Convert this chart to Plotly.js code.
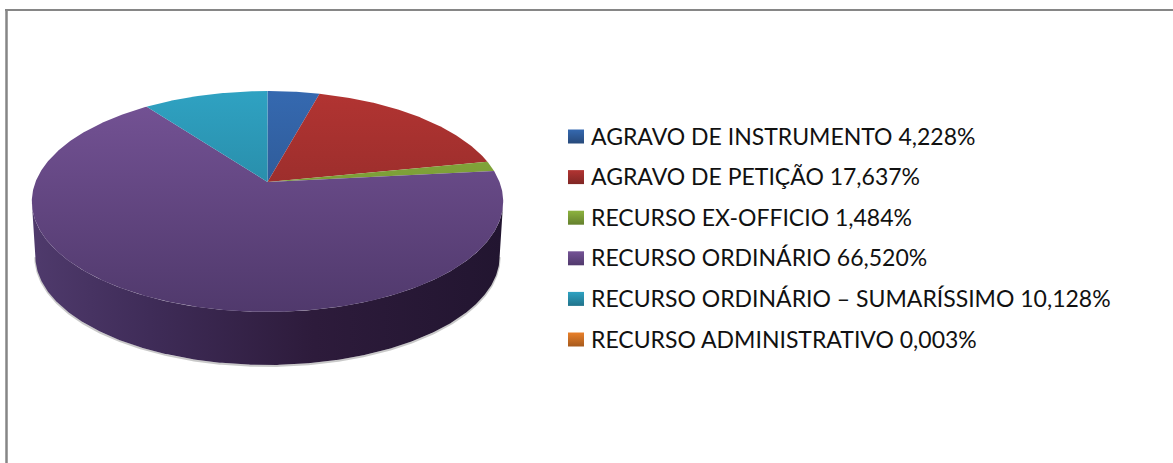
<!DOCTYPE html>
<html><head><meta charset="utf-8">
<script src="https://cdn.plot.ly/plotly-3.0.1.min.js"></script>
<style>html,body{margin:0;padding:0;background:#fff;overflow:hidden}#chart{width:1173px;height:463px}</style>
</head><body><div id="chart"></div>
<script>
const categories = ["AGRAVO DE INSTRUMENTO","AGRAVO DE PETIÇÃO","RECURSO EX-OFFICIO","RECURSO ORDINÁRIO","RECURSO ORDINÁRIO – SUMARÍSSIMO","RECURSO ADMINISTRATIVO"];
const shares = [4.228,17.637,1.484,66.520,10.128,0.003];
const colorsTop = ["#3569B0","#B23432","#8DB33F","#755396","#2FA2C2","#E9802A"];
const colorsBottom = ["#27497A","#7F2624","#64802D","#50396C","#21738B","#A65A1D"];
const wallColors = ["#27497A","#7F2624","#64802D","#4F3A6C","#21738B","#A65A1D"];
const wallColorsDark = ["#1A3050","#541A18","#44561E","#221530","#154C5C","#6E3C13"];

// projection of the tilted disc
const cx=267.5, cy=182, R=232, S=107, k=0.1765;
const dropY=55, lowerScale=0.985;
const faceTop=91, faceBottom=312;
function pt(deg,lower){
  const t=deg*Math.PI/180, d=1+k*Math.cos(t), s=lower?lowerScale:1, oy=lower?dropY:0;
  return [cx+s*R*Math.sin(t)/d, cy+oy-s*S*Math.cos(t)/d];
}
function arc(a,b,lower){
  const n=Math.max(2,Math.ceil(Math.abs(b-a)/0.5)), out=[];
  for(let i=0;i<=n;i++) out.push(pt(a+(b-a)*i/n,lower));
  return out;
}
const extreme=Math.acos(-k)*180/Math.PI, visA=extreme, visB=360-extreme;
const traces=[];
let acc=0; const spans=shares.map(v=>{const a=acc*3.6; acc+=v; return [a,acc*3.6];});

// side wall
spans.forEach((sp,i)=>{
  const a=Math.max(sp[0],visA), b=Math.min(sp[1],visB);
  if(b<=a) return;
  const lowerArc=arc(a,b,true), upperArc=arc(b,a,false), poly=lowerArc.concat(upperArc);
  traces.push({type:'scatter',mode:'lines',x:lowerArc.map(p=>p[0]),y:lowerArc.map(p=>p[1]+1),
    line:{color:'rgba(120,120,120,0.4)',width:2},hoverinfo:'skip',showlegend:false});
  traces.push({type:'scatter',mode:'lines',x:poly.map(p=>p[0]),y:poly.map(p=>p[1]),fill:'toself',
    line:{width:0,color:'rgba(0,0,0,0)'},
    fillgradient:{type:'horizontal',start:32,stop:503,
      colorscale:[[0,wallColors[i]],[0.25,'#3F2C58'],[0.6,'#2D1B3B'],[1,wallColorsDark[i]]]},
    hoverinfo:'skip',showlegend:false});
});
// top face
spans.forEach((sp,i)=>{
  const poly=[[cx,cy]].concat(arc(sp[0],sp[1],false)); poly.push([cx,cy]);
  traces.push({type:'scatter',mode:'lines',name:categories[i],x:poly.map(p=>p[0]),y:poly.map(p=>p[1]),fill:'toself',
    line:{width:0,color:colorsTop[i]},
    fillgradient:{type:'vertical',start:faceTop,stop:faceBottom,colorscale:[[0,colorsTop[i]],[1,colorsBottom[i]]]},
    text:categories[i],hoverinfo:'text',showlegend:false});
});
// legend
const legX=568, legW=16, legH=14, legTextX=589, legY0=135.5, legStep=40.6;
const annotations=categories.map((c,i)=>({
  x:legTextX,y:legY0+i*legStep,xref:'x',yref:'y',xanchor:'left',yanchor:'middle',showarrow:false,
  text:c+' '+shares[i].toFixed(3).replace('.',',')+'%',
  font:{family:'Lato, sans-serif',size:23,color:'#111111'}
}));
categories.forEach((c,i)=>{
  const y=legY0+1+i*legStep;
  traces.push({type:'scatter',mode:'lines',x:[legX,legX+legW,legX+legW,legX,legX],y:[y-legH/2,y-legH/2,y+legH/2,y+legH/2,y-legH/2],
    fill:'toself',line:{width:0,color:colorsTop[i]},
    fillgradient:{type:'vertical',start:y-legH/2,stop:y+legH/2,colorscale:[[0,colorsTop[i]],[1,colorsBottom[i]]]},
    hoverinfo:'skip',showlegend:false});
});
const frame='#868686';
Plotly.newPlot('chart',traces,{
  width:1173,height:463,margin:{l:0,r:0,t:0,b:0},paper_bgcolor:'#fff',plot_bgcolor:'#fff',showlegend:false,
  xaxis:{range:[0,1173],visible:false,fixedrange:true},
  yaxis:{range:[463,0],visible:false,fixedrange:true},
  annotations,
  shapes:[
   {type:'line',xref:'x',yref:'y',x0:6.5,x1:6.5,y0:9,y1:463,line:{color:frame,width:2.5}},
   {type:'line',xref:'x',yref:'y',x0:5,x1:1173,y0:10,y1:10,line:{color:frame,width:2}}
  ]
},{displayModeBar:false,staticPlot:true});
</script></body></html>
